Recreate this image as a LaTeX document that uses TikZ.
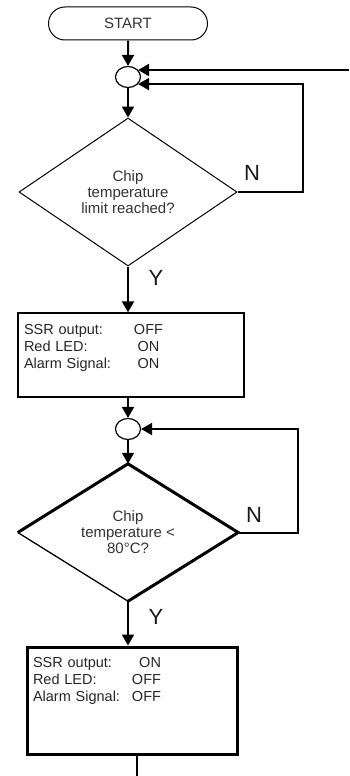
\documentclass[tikz,border=0pt]{standalone}
\usepackage{fontspec}
\setmainfont{Liberation Sans}
\usetikzlibrary{positioning,calc,shapes.geometric,shapes.misc,arrows.meta}

\begin{document}
\begin{tikzpicture} [x=1pt, y=-1pt,
          flow/.style={line width=2pt, -{Triangle[length=11pt,width=12pt]}},
          wire/.style={line width=2pt},
          terminal/.style={draw, rounded rectangle, line width=1pt,
            minimum width=159pt, minimum height=33pt, inner sep=0pt,
            font=\fontsize{15}{16}\selectfont, text=black!80},
          joint/.style={draw, ellipse, line width=1.2pt, minimum
            width=25pt, minimum height=21pt, inner sep=0pt},
          decision/.style={diamond, inner sep=0pt, align=center,
            font=\fontsize{15}{16}\selectfont, text=black!80},
          action/.style={draw, rectangle, inner xsep=6pt, inner ysep=4pt,
            align=left, font=\fontsize{14.5}{17}\selectfont, text=black!85},
          yn/.style={font=\fontsize{22}{24}\selectfont, text=black!90}]
  \useasboundingbox (0,0) rectangle (349,776);

  % first loop
  \node[terminal] (start) at (128,23.5) {START};
  \node[joint] (j1) at (128,77) {};
  \node[decision, draw, line width=1pt, minimum width=218pt,
    minimum height=148pt] (d1) at (128,192) {Chip\\temperature\\limit reached?};
  \node[action, line width=1.3pt, minimum width=226pt, text width=214pt,
    text height=17.5pt, text depth=58.5pt] (b1) at (131,355)
    {\begin{tabular}[t]{@{}p{110pt}@{}c@{}}
       SSR output:   & OFF \\
       Red LED:      & ON  \\
       Alarm Signal: & ON
     \end{tabular}};
  \node[yn] (n1) at (252,173) {N};
  \node[yn] (y1) at (156,278) {Y};
  \coordinate (in1) at (349,70);

  \draw[flow] (start) -- (j1);
  \draw[flow] (in1) -- (in1 -| j1.35);
  \draw[flow] (j1.south) -- (d1.north);
  \draw[flow] (d1.east) -- ++(65,0) |- (j1.-35);
  \draw[flow] (d1.south) -- (d1.south |- b1.north);

  % second loop
  \node[joint] (j2) at (128,429) {};
  \node[decision, minimum width=220pt, minimum height=137pt] (d2)
    at (128,532.5) {Chip\\temperature <\\80°C?};
  \draw[line width=3pt] (d2.west) -- (d2.north) -- (d2.east) -- (d2.south);
  \draw[line width=1.3pt] (d2.south) -- (d2.west);
  \node[action, line width=3pt, minimum width=210pt, text width=198pt,
    text height=16pt, text depth=83pt] (b2) at (132,700.5)
    {\begin{tabular}[t]{@{}p{99pt}@{}r@{}}
       SSR output:   & ON  \\
       Red LED:      & OFF \\
       Alarm Signal: & OFF
     \end{tabular}};
  \node[yn] (n2) at (254,515) {N};
  \node[yn] (y2) at (156,617) {Y};
  \coordinate (out) at (137,776);

  \draw[flow] (j2 |- b1.south) -- (j2.north);
  \draw[flow] (j2.south) -- (d2.north);
  \draw[flow] (d2.east) -- ++(60,0) |- (j2.east);
  \draw[flow] (d2.south) -- (d2.south |- b2.north);
  \draw[wire] (b2.south -| out) -- (out);
\end{tikzpicture}
\end{document}
